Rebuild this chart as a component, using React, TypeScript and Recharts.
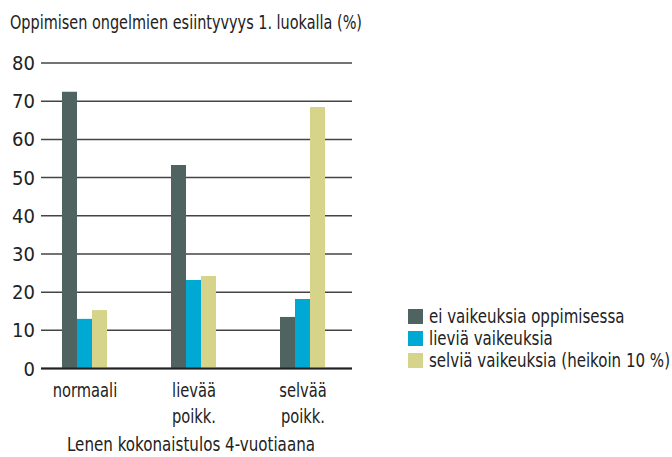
import React from 'react';
import { BarChart, Bar, XAxis, YAxis, CartesianGrid, Legend } from 'recharts';

const categories = ['normaali', 'lievää\npoikk.', 'selvää\npoikk.'];
const eiVaikeuksia = [72.5, 53.3, 13.5];
const lievia = [13.0, 23.2, 18.2];
const selvia = [15.3, 24.2, 68.5];
const yTicks = [0, 10, 20, 30, 40, 50, 60, 70, 80];

const SERIES = [
  { key: 'ei', name: 'ei vaikeuksia oppimisessa', color: '#4f6361' },
  { key: 'lievia', name: 'lieviä vaikeuksia', color: '#00a9d4' },
  { key: 'selvia', name: 'selviä vaikeuksia (heikoin 10 %)', color: '#d5d48a' },
];

const data = categories.map((c, i) => ({
  name: c,
  ei: eiVaikeuksia[i],
  lievia: lievia[i],
  selvia: selvia[i],
}));

const FONT = '"DejaVu Sans Condensed", "Liberation Sans", sans-serif';

const CategoryTick = (props: any) => {
  const { x, payload } = props;
  const lines = String(payload.value).split('\n');
  return (
    <g transform={`translate(${x},0) scale(0.86,1)`}>
      <text x={0} y={397} textAnchor="middle" fontFamily={FONT} fontSize={19} fill="#222">
        {lines.map((l, i) => (
          <tspan key={i} x={0} dy={i === 0 ? 0 : 26}>{l}</tspan>
        ))}
      </text>
    </g>
  );
};

const LegendBox = () => (
  <div style={{ fontFamily: FONT, fontSize: 19, color: '#222', whiteSpace: 'nowrap' }}>
    {SERIES.map(s => (
      <div key={s.key} style={{ display: 'flex', alignItems: 'center', height: 22 }}>
        <span style={{ width: 15, height: 15, background: s.color, marginRight: 6, display: 'inline-block', flex: 'none' }} />
        <span style={{ display: 'inline-block', transform: 'scaleX(0.88)', transformOrigin: 'left center' }}>{s.name}</span>
      </div>
    ))}
  </div>
);

export default function App() {
  return (
    <div style={{ position: 'absolute', left: 0, top: 0, width: 672, height: 457, background: '#fff' }}>
      <svg width={672} height={457} style={{ position: 'absolute', left: 0, top: 0 }}>
        <text x={10} y={29} fontFamily={FONT} fontSize={20} fill="#222" textLength={352} lengthAdjust="spacingAndGlyphs">
          Oppimisen ongelmien esiintyvyys 1. luokalla (%)
        </text>
        <text x={67} y={451} fontFamily={FONT} fontSize={20} fill="#222" textLength={248} lengthAdjust="spacingAndGlyphs">
          Lenen kokonaistulos 4-vuotiaana
        </text>
      </svg>
      <div style={{ position: 'absolute', left: 0, top: 0 }}>
        <BarChart
          width={672}
          height={457}
          data={data}
          margin={{ top: 63, right: 320, left: 0, bottom: 0 }}
          barGap={0}
          barCategoryGap={31.5}
        >
          <CartesianGrid vertical={false} stroke="#444" strokeWidth={1.5} />
          <XAxis
            dataKey="name"
            padding={{ left: -10.5, right: -5.5 }}
            axisLine={{ stroke: '#222', strokeWidth: 2 }}
            tickLine={false}
            tick={<CategoryTick />}
            interval={0}
            height={88.5}
          />
          <YAxis
            domain={[0, 80]}
            ticks={yTicks}
            width={41}
            axisLine={false}
            tickLine={false}
            tickSize={6}
            tickMargin={0}
            tick={{ fontFamily: FONT, fontSize: 20, fill: '#222' }}
          />
          {SERIES.map(s => (
            <Bar key={s.key} dataKey={s.key} name={s.name} fill={s.color} isAnimationActive={false} />
          ))}
          <Legend
            layout="vertical"
            align="center"
            verticalAlign="middle"
            content={<LegendBox />}
            wrapperStyle={{ left: 408, top: 305, width: 264 }}
          />
        </BarChart>
      </div>
    </div>
  );
}
